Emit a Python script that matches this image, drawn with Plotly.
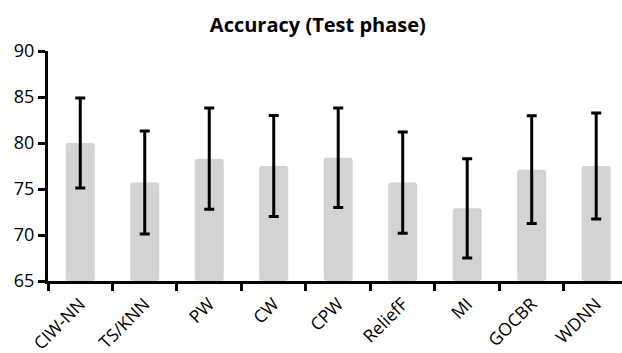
import plotly.graph_objects as go

categories = ["CIW-NN", "TS/KNN", "PW", "CW", "CPW", "ReliefF", "MI", "GOCBR", "WDNN"]
accuracy = [80.0, 75.7, 78.3, 77.5, 78.4, 75.7, 72.9, 77.1, 77.5]
std_dev = [4.9, 5.6, 5.5, 5.5, 5.4, 5.5, 5.4, 5.85, 5.75]
y_ticks = [65, 70, 75, 80, 85, 90]

font_family = "Open Sans, Lato, DejaVu Sans, sans-serif"

fig = go.Figure(
    go.Bar(
        x=categories,
        y=[a - 65 for a in accuracy],
        base=65,
        width=0.45,
        marker=dict(color="#d3d3d3", line=dict(width=0), cornerradius=3),
        error_y=dict(type="data", array=std_dev, visible=True,
                     color="#000000", thickness=3, width=5),
        hoverinfo="skip",
    )
)

fig.update_layout(
    width=622, height=353,
    margin=dict(l=48, r=0, t=51, b=72),
    paper_bgcolor="white", plot_bgcolor="white",
    showlegend=False,
    bargap=0.55,
    title=dict(text="<b>Accuracy (Test phase)</b>", x=0.511, xanchor="center",
               y=0.93, yanchor="middle",
               font=dict(family=font_family, size=20, color="#000000")),
    font=dict(family=font_family, color="#000000"),
)

fig.update_xaxes(
    type="category", range=[-0.5, 8.4],
    showline=True, linecolor="#000000", linewidth=3,
    ticks="outside", tickson="boundaries", ticklen=7, tickwidth=3, tickcolor="#000000",
    tickangle=-45, tickfont=dict(size=17.5, family=font_family, color="#000000"),
    ticklabelstandoff=3, automargin=False,
    showgrid=False, zeroline=False,
)
fig.update_yaxes(
    range=[65, 90], tickvals=y_ticks,
    showline=True, linecolor="#000000", linewidth=3,
    ticks="outside", ticklen=7, tickwidth=3, tickcolor="#000000",
    tickfont=dict(size=18, family=font_family, color="#000000"),
    automargin=False,
    showgrid=False, zeroline=False,
)

fig.write_html("out.html")
